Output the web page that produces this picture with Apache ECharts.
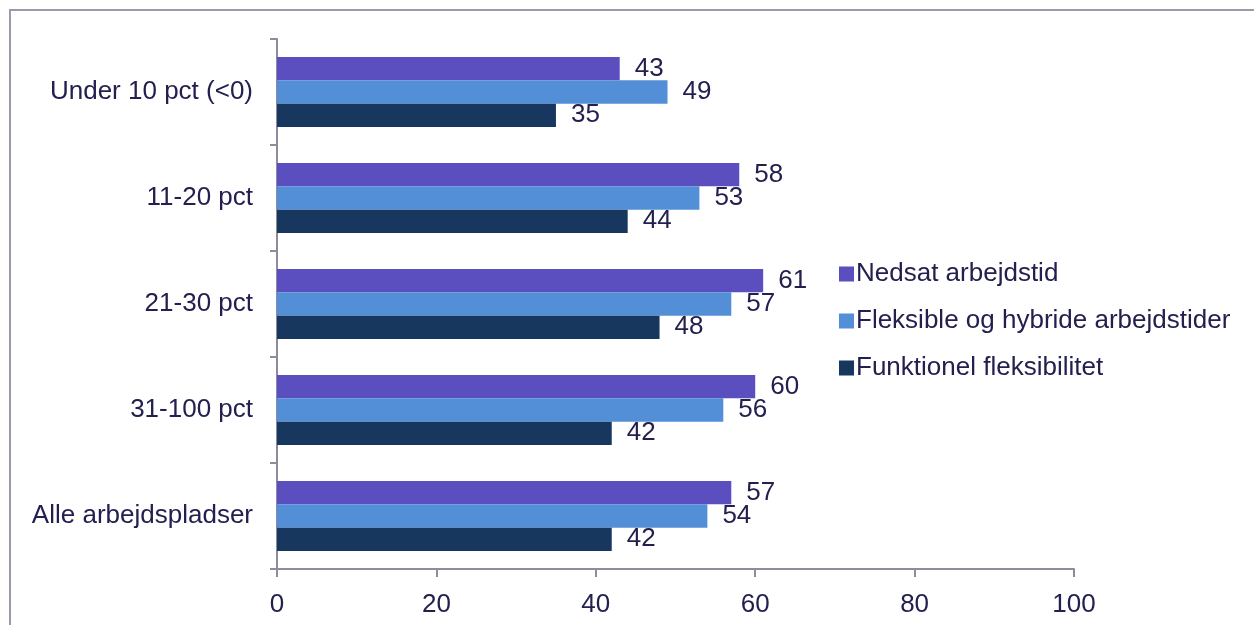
<!DOCTYPE html>
<html>
<head>
<meta charset="utf-8">
<script src="https://cdn.jsdelivr.net/npm/echarts@6/dist/echarts.min.js"></script>
<style>
  html, body { margin: 0; padding: 0; background: #fff; }
  #frame {
    position: absolute; left: 9px; top: 9px; width: 1260px; height: 640px;
    border-left: 2px solid #9b99aa; border-top: 2px solid #9b99aa;
  }
  #chart { position: absolute; left: 0; top: 0; width: 1254px; height: 625px; }
</style>
</head>
<body>
<div id="frame"></div>
<div id="chart"></div>
<script>
const categories = ['Under 10 pct (<0)', '11-20 pct', '21-30 pct', '31-100 pct', 'Alle arbejdspladser']
const seriesNames = ['Nedsat arbejdstid', 'Fleksible og hybride arbejdstider', 'Funktionel fleksibilitet']
const nedsat = [43, 58, 61, 60, 57]
const fleksible = [49, 53, 57, 56, 54]
const funktionel = [35, 44, 48, 42, 42]
const xTicks = [0, 20, 40, 60, 80, 100]

const textColor = '#23204f'
const axisColor = '#8e8c9c'
const colors = ['#5b4fbf', '#538fd6', '#17375e']
const font = 'Liberation Sans, Arial, sans-serif'

const chartDom = echarts.init(document.getElementById('chart'))

const makeSeries = (name, data, color) => ({
  type: 'bar',
  name: name,
  data: data,
  itemStyle: { color: color },
  barGap: '0%',
  barCategoryGap: '34%',
  label: {
    show: true,
    position: 'right',
    distance: 15,
    color: textColor,
    fontSize: 26,
    fontFamily: font,
  },
})

const option = {
  animation: false,
  textStyle: { fontFamily: font },
  grid: { left: 277, right: 180, top: 39, bottom: 56, containLabel: false },
  legend: {
    orient: 'vertical',
    left: 834,
    top: 256,
    itemWidth: 15,
    itemHeight: 15,
    itemGap: 21,
    icon: 'rect',
    textStyle: { color: textColor, fontSize: 26, fontFamily: font, padding: [0, 0, 0, -3] },
    data: seriesNames,
  },
  xAxis: {
    type: 'value',
    min: xTicks[0],
    max: xTicks[xTicks.length - 1],
    interval: 20,
    axisLine: { show: true, lineStyle: { color: axisColor, width: 2 } },
    axisTick: { show: true, length: 8, lineStyle: { color: axisColor, width: 2 } },
    splitLine: { show: false },
    axisLabel: { color: textColor, fontSize: 26, fontFamily: font, margin: 23 },
  },
  yAxis: {
    type: 'category',
    inverse: true,
    data: categories,
    axisLine: { show: true, lineStyle: { color: axisColor, width: 2 } },
    axisTick: { show: true, length: 7, lineStyle: { color: axisColor, width: 2 } },
    axisLabel: { color: textColor, fontSize: 26, fontFamily: font, margin: 24 },
  },
  series: [
    makeSeries(seriesNames[0], nedsat, colors[0]),
    makeSeries(seriesNames[1], fleksible, colors[1]),
    makeSeries(seriesNames[2], funktionel, colors[2]),
  ],
}

chartDom.setOption(option)
window.addEventListener('resize', () => {
  chartDom.resize()
})
</script>
</body>
</html>
